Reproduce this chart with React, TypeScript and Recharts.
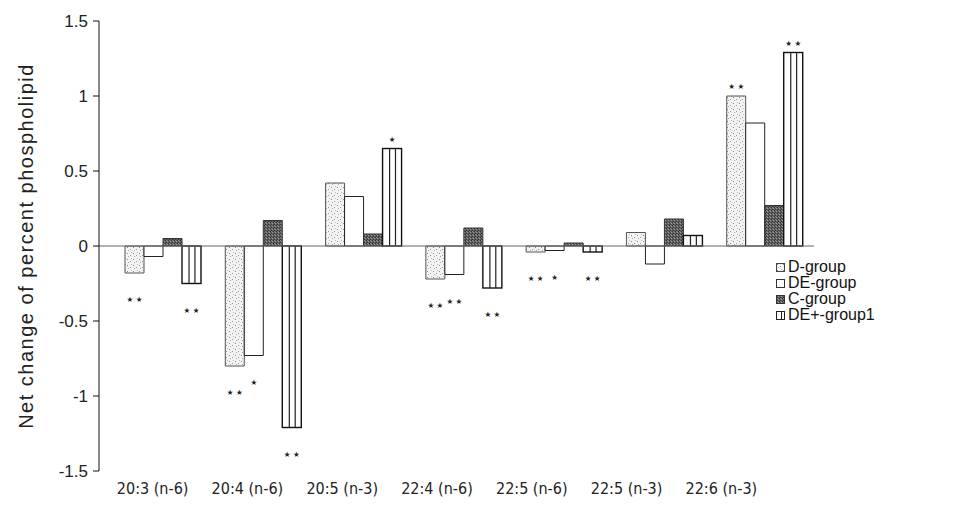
import React from 'react';
import { BarChart, Bar, XAxis, YAxis, ReferenceLine, Legend, LabelList, Label } from 'recharts';

const categories = ['20:3 (n-6)', '20:4 (n-6)', '20:5 (n-3)', '22:4 (n-6)', '22:5 (n-6)', '22:5 (n-3)', '22:6 (n-3)'];
const dGroup = [-0.18, -0.8, 0.42, -0.22, -0.04, 0.09, 1.0];
const deGroup = [-0.07, -0.73, 0.33, -0.19, -0.03, -0.12, 0.82];
const cGroup = [0.05, 0.17, 0.08, 0.12, 0.02, 0.18, 0.27];
const dePlusGroup = [-0.25, -1.21, 0.65, -0.28, -0.04, 0.07, 1.29];
const dSig = ['**', '**', '', '**', '**', '', '**'];
const deSig = ['', '*', '', '**', '*', '', ''];
const cSig = ['', '', '', '', '', '', ''];
const dePlusSig = ['**', '**', '*', '**', '**', '', '**'];
const yTicks = [-1.5, -1, -0.5, 0, 0.5, 1, 1.5];
const seriesNames = ['D-group', 'DE-group', 'C-group', 'DE+-group1'];
const yTitle = 'Net change of percent phospholipid';

const data = categories.map((name, i) => ({
  name,
  d: dGroup[i],
  de: deGroup[i],
  c: cGroup[i],
  dep: dePlusGroup[i],
}));

const FONT = "'Liberation Sans', Arial, Helvetica, sans-serif";
const NARROW = "'Liberation Sans Narrow', 'Arial Narrow', 'DejaVu Sans Condensed', sans-serif";

const CatTick = (props: any) => {
  const { x, y, payload, index } = props;
  const shift = 9.5 + 5.5 * index;
  return (
    <text x={x - shift} y={y} dy={15} textAnchor="middle" fontFamily={NARROW} fontSize={16} fill="#222">
      {payload.value}
    </text>
  );
};

const makeStars = (sig: string[], vals: number[]) => (props: any) => {
  const { x, y, width, height, index } = props;
  const s = sig[index];
  if (!s) return null;
  const v = vals[index];
  const top = Math.min(y, y + height);
  const bottom = Math.max(y, y + height);
  const ty = v < 0 ? bottom + 29 : top - 7;
  const txt = s.split('').map(() => '\u2605').join(' ');
  return (
    <text x={x + width / 2} y={ty} textAnchor="middle" fontFamily="'DejaVu Sans', sans-serif" fontSize={7.5} fill="#222">
      {txt}
    </text>
  );
};

const StripedBar = (props: any) => {
  const { x, y, width, height } = props;
  const top = Math.min(y, y + height);
  const h = Math.abs(height);
  return (
    <g>
      <rect x={x} y={top} width={width} height={h} fill="#fff" stroke="#111" strokeWidth={1.4} />
      <line x1={x + width * 0.37} x2={x + width * 0.37} y1={top} y2={top + h} stroke="#222" strokeWidth={1.2} />
      <line x1={x + width * 0.68} x2={x + width * 0.68} y1={top} y2={top + h} stroke="#222" strokeWidth={1.2} />
    </g>
  );
};

const legendIcon = (i: number) => {
  if (i === 0) return <rect x={0.5} y={0.5} width={8} height={8} fill="url(#dPat)" stroke="#444" strokeWidth={1} />;
  if (i === 1) return <rect x={0.5} y={0.5} width={8} height={8} fill="#fff" stroke="#333" strokeWidth={1} />;
  if (i === 2) return <rect x={0.5} y={0.5} width={8} height={8} fill="url(#cPat)" stroke="#333" strokeWidth={1} />;
  return (
    <g>
      <rect x={0.5} y={0.5} width={8} height={8} fill="#fff" stroke="#222" strokeWidth={1} />
      <line x1={5.5} x2={5.5} y1={0.5} y2={8.5} stroke="#222" strokeWidth={1} />
    </g>
  );
};

const LegendContent = () => (
  <div style={{ fontFamily: FONT, fontSize: 16, lineHeight: '16px', color: '#111' }}>
    {seriesNames.map((n, i) => (
      <div key={n} style={{ display: 'flex', alignItems: 'center', whiteSpace: 'nowrap', height: 16 }}>
        <svg width={9} height={9} style={{ marginRight: 3 }}>{legendIcon(i)}</svg>
        <span>{n}</span>
      </div>
    ))}
  </div>
);

export default function App() {
  return (
    <div style={{ position: 'absolute', left: 0, top: 0, background: '#fff' }}>
      <BarChart
        width={955}
        height={508}
        data={data}
        margin={{ top: 21, right: 141, bottom: 7, left: 16 }}
        barGap={0}
        barCategoryGap={13}
      >
        <defs>
          <pattern id="dPat" patternUnits="userSpaceOnUse" width="6" height="6">
            <rect width="6" height="6" fill="#f3f3f3" />
            <rect x="1" y="1" width="1" height="1" fill="#888" />
            <rect x="4" y="3" width="1" height="1" fill="#999" />
            <rect x="2" y="4" width="1" height="1" fill="#aaa" />
            <rect x="5" y="0" width="1" height="1" fill="#bbb" />
          </pattern>
          <pattern id="cPat" patternUnits="userSpaceOnUse" width="3" height="3">
            <rect width="3" height="3" fill="#5e5e5e" />
            <rect x="0" y="0" width="1" height="1" fill="#2e2e2e" />
            <rect x="2" y="1" width="1" height="1" fill="#9a9a9a" />
            <rect x="1" y="2" width="1" height="1" fill="#333" />
            <rect x="1" y="0" width="1" height="1" fill="#888" />
          </pattern>
        </defs>
        <XAxis
          dataKey="name"
          axisLine={false}
          tickLine={false}
          interval={0}
          height={30}
          padding={{ left: 13, right: 0 }}
          tick={<CatTick />}
        />
        <YAxis
          domain={[-1.5, 1.5]}
          ticks={yTicks}
          width={83}
          axisLine={{ stroke: '#111', strokeWidth: 1 }}
          tickLine={{ stroke: '#111' }}
          tickSize={6}
          tickMargin={5}
          tick={{ fontFamily: FONT, fontSize: 17, fill: '#222' }}
        >
          <Label
            value={yTitle}
            angle={-90}
            position="insideLeft"
            offset={10}
            style={{ textAnchor: 'middle', fontFamily: FONT, fontSize: 20, letterSpacing: 1.5, fill: '#222' }}
          />
        </YAxis>
        <ReferenceLine y={0} stroke="#666" strokeWidth={1} />
        <Legend
          layout="vertical"
          align="center"
          verticalAlign="middle"
          content={<LegendContent />}
          wrapperStyle={{ left: 776, top: 259, width: 180 }}
        />
        <Bar dataKey="d" name={seriesNames[0]} fill="url(#dPat)" stroke="#555" strokeWidth={1} isAnimationActive={false}>
          <LabelList dataKey="d" content={makeStars(dSig, dGroup)} />
        </Bar>
        <Bar dataKey="de" name={seriesNames[1]} fill="#fff" stroke="#222" strokeWidth={1} isAnimationActive={false}>
          <LabelList dataKey="de" content={makeStars(deSig, deGroup)} />
        </Bar>
        <Bar dataKey="c" name={seriesNames[2]} fill="url(#cPat)" stroke="#333" strokeWidth={1} isAnimationActive={false}>
          <LabelList dataKey="c" content={makeStars(cSig, cGroup)} />
        </Bar>
        <Bar dataKey="dep" name={seriesNames[3]} shape={<StripedBar />} isAnimationActive={false}>
          <LabelList dataKey="dep" content={makeStars(dePlusSig, dePlusGroup)} />
        </Bar>
      </BarChart>
    </div>
  );
}
